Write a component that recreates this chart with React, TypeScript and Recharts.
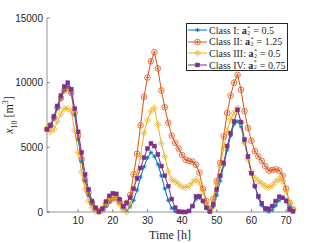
import { LineChart, Line, XAxis, YAxis } from "recharts";

const hours = Array.from({ length: 72 }, (_, i) => i + 1);

const classI = [
  6400, 6600, 7200, 8000, 8800, 9400, 9700, 9200, 7500, 5600, 3900, 2400, 1300, 600, 200, 30, 150, 450,
  800, 1050, 1050, 750, 350, 100, 400, 900, 1700, 2700, 3500, 4200, 4600, 4300, 3700, 2800, 1800, 900,
  300, 50, 0, 0, 0, 80, 450, 1000, 1100, 850, 300, 20, 400, 1300, 2400, 3600, 4800, 5900, 6800, 7000,
  6600, 5400, 4200, 3000, 2000, 1100, 500, 150, 30, 150, 500, 900, 1100, 950, 450, 100,
];
const classII = [
  6400, 6700, 7300, 8100, 8800, 9400, 9600, 9200, 7700, 5900, 4100, 2500, 1500, 700, 250, 50, 200, 550,
  850, 1050, 1050, 750, 350, 700, 1300, 2900, 4500, 6700, 8900, 10400, 11650, 12350, 11100, 9400, 8100, 6900,
  5900, 5350, 4900, 4400, 4050, 3950, 3900, 3650, 3050, 1800, 850, 200, 1000, 2400, 3800, 5850, 7650, 9000,
  10000, 10600, 9450, 7800, 6500, 5500, 4700, 4300, 3950, 3550, 3200, 3250, 3300, 3200, 2800, 1800, 700, 200,
];
const classIII = [
  6400, 6200, 6400, 7000, 7600, 8000, 8000, 7800, 6300, 4600, 3100, 1800, 850, 330, 50, 0, 200, 700,
  1050, 1200, 1050, 600, 200, 0, 600, 1800, 3000, 4300, 6100, 7100, 7800, 8050, 6750, 5300, 4300, 3150,
  2500, 2350, 2150, 1950, 1900, 2000, 2300, 2500, 2250, 1600, 600, 200, 1000, 2250, 3550, 4950, 6250, 7150,
  7650, 8050, 6900, 5350, 4050, 3150, 2650, 2400, 2200, 2000, 1900, 2050, 2350, 2550, 2400, 1600, 700, 150,
];
const classIV = [
  6400, 6700, 7400, 8200, 9000, 9700, 10000, 9500, 8000, 6200, 4600, 2900, 1750, 850, 330, 30, 250, 800,
  1250, 1450, 1400, 1000, 450, 700, 1100, 1800, 2600, 3400, 4200, 4900, 5300, 5100, 4450, 3550, 2800, 2000,
  1000, 330, 30, 0, 0, 80, 460, 1200, 1230, 850, 330, 30, 600, 1750, 2800, 3800, 5100, 6100, 7000, 7900,
  6950, 5600, 4300, 3000, 2000, 1230, 670, 280, 250, 460, 850, 1180, 1100, 850, 200, 50,
];

const xTicks = [10, 20, 30, 40, 50, 60, 70];
const yTicks = [0, 5000, 10000, 15000];

const data = hours.map((h, i) => ({ h, c1: classI[i], c2: classII[i], c3: classIII[i], c4: classIV[i] }));

const BLUE = "#0072BD";
const RED = "#D95319";
const YELLOW = "#EDB120";
const PURPLE = "#7E2F8E";
const AXIS = "#262626";

function Star({ cx, cy, c }: any) {
  const s = 2.2;
  return (
    <g stroke={c} strokeWidth={0.8}>
      <line x1={cx - s} y1={cy} x2={cx + s} y2={cy} />
      <line x1={cx} y1={cy - s} x2={cx} y2={cy + s} />
      <line x1={cx - s * 0.7} y1={cy - s * 0.7} x2={cx + s * 0.7} y2={cy + s * 0.7} />
      <line x1={cx - s * 0.7} y1={cy + s * 0.7} x2={cx + s * 0.7} y2={cy - s * 0.7} />
    </g>
  );
}
function Circ({ cx, cy, c }: any) {
  return (
    <g stroke={c} strokeWidth={0.8} fill="none">
      <circle cx={cx} cy={cy} r={2.8} />
      <line x1={cx - 1.6} y1={cy} x2={cx + 1.6} y2={cy} />
      <line x1={cx} y1={cy - 1.6} x2={cx} y2={cy + 1.6} />
    </g>
  );
}
function Diam({ cx, cy, c }: any) {
  const s = 3.2;
  return (
    <g stroke={c} strokeWidth={0.8} fill="none">
      <path d={`M${cx},${cy - s}L${cx + s},${cy}L${cx},${cy + s}L${cx - s},${cy}Z`} />
      <line x1={cx - 1.8} y1={cy} x2={cx + 1.8} y2={cy} />
      <line x1={cx} y1={cy - 1.8} x2={cx} y2={cy + 1.8} />
    </g>
  );
}
function Sq({ cx, cy, c }: any) {
  return <rect x={cx - 1.9} y={cy - 1.9} width={3.8} height={3.8} fill={c} stroke={c} strokeWidth={0.6} />;
}

const series = [
  { key: "c1", color: BLUE, M: Star, name: "Class I:", val: "0.5" },
  { key: "c2", color: RED, M: Circ, name: "Class II:", val: "1.25" },
  { key: "c3", color: YELLOW, M: Diam, name: "Class III:", val: "0.5" },
  { key: "c4", color: PURPLE, M: Sq, name: "Class IV:", val: "0.75" },
];

const tickStyle = { fontFamily: "'Liberation Sans', Arial, sans-serif", fontSize: 10, fill: AXIS };
const serif = "'Liberation Serif', 'Times New Roman', serif";

export default function App() {
  return (
    <div style={{ position: "absolute", left: 0, top: 0, width: 324, height: 243, background: "#fff" }}>
      <LineChart width={324} height={243} data={data} margin={{ top: 18, right: 31, bottom: 0, left: 0 }}>
        <XAxis
          dataKey="h"
          type="number"
          domain={[1, 72]}
          ticks={xTicks}
          height={31}
          tickSize={-3}
          tickMargin={8}
          tick={tickStyle}
          stroke={AXIS}
          strokeWidth={0.5}
        />
        <XAxis
          xAxisId="top"
          orientation="top"
          type="number"
          domain={[1, 72]}
          ticks={xTicks}
          height={0}
          tickSize={-3}
          tick={false}
          stroke={AXIS}
          strokeWidth={0.5}
        />
        <YAxis
          type="number"
          domain={[0, 15000]}
          ticks={yTicks}
          width={47}
          tickSize={-3}
          tickMargin={7}
          tick={tickStyle}
          stroke={AXIS}
          strokeWidth={0.5}
        />
        <YAxis
          yAxisId="right"
          orientation="right"
          type="number"
          domain={[0, 15000]}
          ticks={yTicks}
          width={0}
          tickSize={-3}
          tick={false}
          stroke={AXIS}
          strokeWidth={0.5}
        />
        {series.map((s) => (
          <Line
            key={s.key}
            dataKey={s.key}
            stroke={s.color}
            strokeWidth={1}
            isAnimationActive={false}
            dot={(p: any) => <s.M key={p.index} cx={p.cx} cy={p.cy} c={s.color} />}
            activeDot={false}
          />
        ))}
      </LineChart>

      <div
        style={{
          position: "absolute",
          left: 186,
          top: 23,
          width: 102,
          height: 48,
          border: `0.8px solid ${AXIS}`,
          background: "#fff",
          boxSizing: "border-box",
          fontFamily: serif,
          fontSize: 10,
          color: AXIS,
          paddingTop: 0.5,
        }}
      >
        {series.map((s) => (
          <div key={s.key} style={{ display: "flex", alignItems: "center", height: 11.6, whiteSpace: "nowrap" }}>
            <svg width={21} height={10} style={{ flex: "none" }}>
              <line x1={1} y1={5} x2={20} y2={5} stroke={s.color} strokeWidth={1} />
              <s.M cx={10.5} cy={5} c={s.color} />
            </svg>
            <span style={{ marginLeft: 1 }}>
              {s.name} <b>a</b>
              <span style={{ display: "inline-block", position: "relative", width: 4, height: 8, verticalAlign: "middle" }}>
                <span style={{ position: "absolute", left: 0.5, top: -3, fontSize: 6 }}>*</span>
                <span style={{ position: "absolute", left: 0.5, top: 2, fontSize: 6 }}>2</span>
              </span>
              {" = "}
              {s.val}
            </span>
          </div>
        ))}
      </div>

      <div
        style={{
          position: "absolute",
          left: 10,
          top: 115,
          transform: "translate(-50%, -50%) rotate(-90deg)",
          fontFamily: serif,
          fontSize: 12,
          color: AXIS,
          whiteSpace: "nowrap",
        }}
      >
        <i>x</i>
        <sub style={{ fontSize: 8 }}>10</sub> [m<sup style={{ fontSize: 8 }}>3</sup>]
      </div>
      <div
        style={{
          position: "absolute",
          left: 170,
          top: 235,
          transform: "translate(-50%, -50%)",
          fontFamily: serif,
          fontSize: 12,
          color: AXIS,
          whiteSpace: "nowrap",
        }}
      >
        Time [h]
      </div>
    </div>
  );
}
